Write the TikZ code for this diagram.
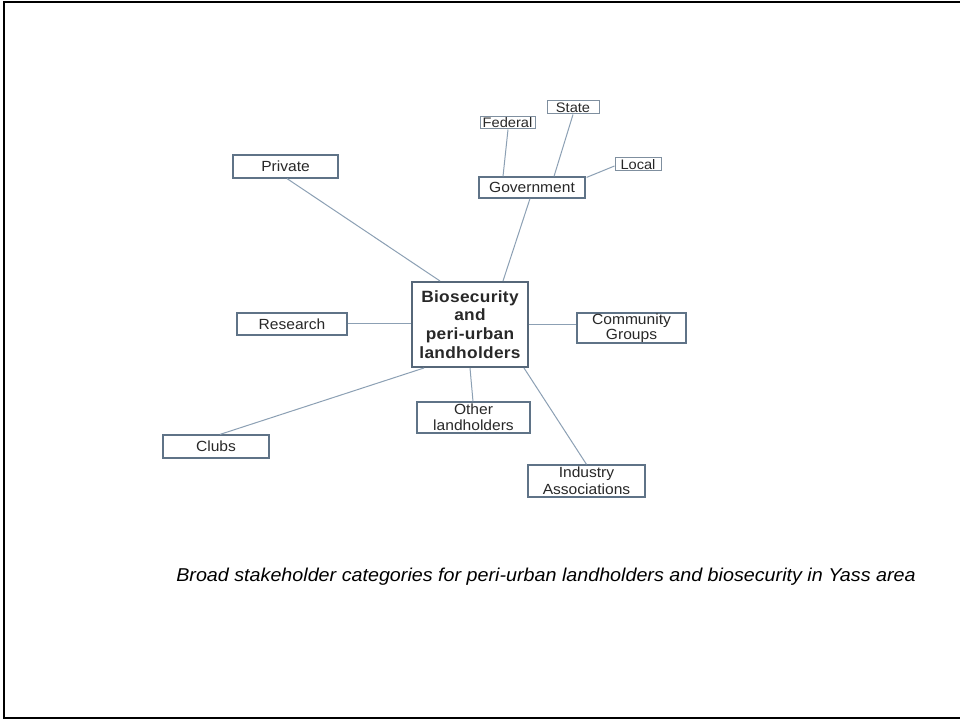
\documentclass[tikz,border=0pt]{standalone}
\usepackage{fontspec}
\setmainfont{Liberation Sans}[FakeStretch=1.06]
\begin{document}
\begin{tikzpicture}[x=1pt,y=1pt,
  box/.style={draw=boxc, line width=1.2pt, fill=white, text=txt, inner sep=0pt,
    minimum width=#1, font=\fontsize{14.7}{16}\selectfont, align=center},
  sbox/.style={draw=boxc!80, line width=1pt, fill=white, text=txt, inner sep=0pt,
    minimum width=#1, font=\fontsize{13.8}{15}\selectfont, align=center},
  link/.style={draw=linec, line width=1pt}]
\definecolor{boxc}{RGB}{95,115,135}
\definecolor{linec}{RGB}{140,160,180}
\definecolor{txt}{RGB}{40,40,40}
\useasboundingbox (0,0) rectangle (960,719);
\fill[white] (0,0) rectangle (960,719);
\draw[line width=2pt] (4,-2) -- (4,717) -- (962,717);
\draw[line width=2pt] (3,1) -- (962,1);

% nodes
\node[box=105pt, minimum height=23pt] (priv) at (285.5,552.5) {Private};
\node[box=106pt, minimum height=21pt] (gov) at (532,531.5) {Government};
\node[sbox=55pt, minimum height=12pt] (fed) at (507.5,596) {Federal};
\node[sbox=52pt, minimum height=13pt] (state) at (573,611.5) {State};
\node[sbox=46pt, minimum height=13pt] (local) at (638,554.5) {Local};
\node[draw=boxc!90!black, line width=2pt, fill=white, text=txt, inner sep=0pt,
  minimum width=116pt, minimum height=85pt, align=center,
  font=\bfseries\fontsize{16.3}{18.7}\selectfont\addfontfeature{LetterSpace=2}] (ctr) at (470,394.5)
  {Biosecurity\\and\\peri-urban\\landholders};
\node[box=110pt, minimum height=22pt] (res) at (292,395) {Research};
\node[box=109pt, minimum height=30pt, font=\fontsize{14.7}{15.5}\selectfont] (comm) at (631.5,391) {Community\\Groups};
\node[box=106pt, minimum height=23pt] (clubs) at (216,272.5) {Clubs};
\node[box=113pt, minimum height=31pt, font=\fontsize{14.7}{15.5}\selectfont] (other) at (473.5,301.5) {Other\\landholders};
\node[box=117pt, minimum height=32pt, font=\fontsize{14.7}{16.5}\selectfont] (ind) at (586.5,238) {Industry\\Associations};

% connectors
\path[link] ([xshift=1.5pt]priv.south) -- ([xshift=-30pt]ctr.north);
\path[link] ([xshift=-2pt]gov.south) -- ([xshift=33pt]ctr.north);
\path[link] ([xshift=0.5pt]fed.south) -- ([xshift=-29pt]gov.north);
\path[link] (state.south) -- ([xshift=22pt]gov.north);
\path[link] ([yshift=-1.5pt]local.west) -- ([xshift=1pt,yshift=-1pt]gov.north east);
\path[link] (res.east) -- (res.east -| ctr.west);
\path[link] (ctr.east) -- (ctr.east -| comm.west);
\path[link] ([xshift=4pt]clubs.north) -- ([xshift=-46pt]ctr.south);
\path[link] ([xshift=-0.5pt]other.north) -- (ctr.south);
\path[link] (ind.north) -- ([xshift=54pt]ctr.south);

% caption
\node[text=black, font=\itshape\fontsize{18.6}{20}\selectfont, inner sep=0pt] (cap) at (546,142)
  {Broad stakeholder categories for peri-urban landholders and biosecurity in Yass area};
\end{tikzpicture}
\end{document}
